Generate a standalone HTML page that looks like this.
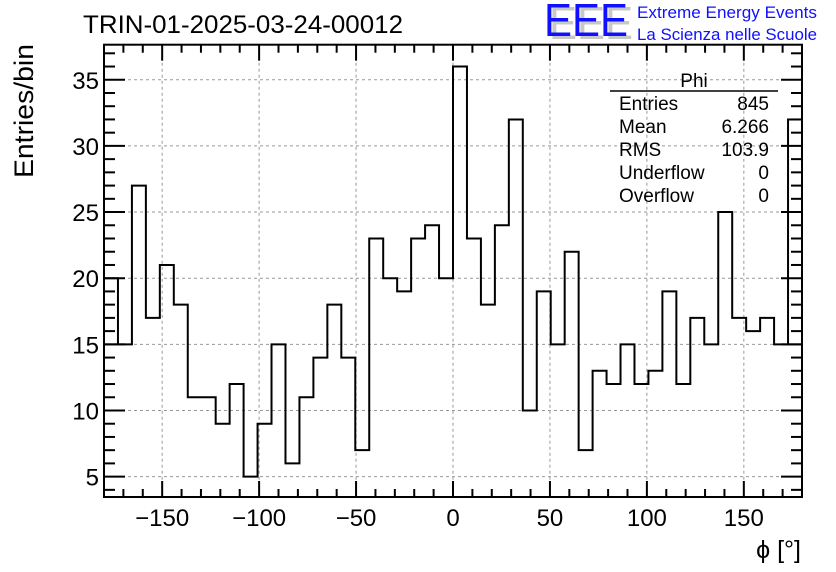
<!DOCTYPE html>
<html><head><meta charset="utf-8"><style>
html,body{margin:0;padding:0;background:#fff;}
svg{display:block;font-family:"Liberation Sans",Arial,sans-serif;}
</style></head><body>
<svg id="chart" width="836" height="572" viewBox="0 0 836 572" xmlns="http://www.w3.org/2000/svg">
<rect x="0" y="0" width="836" height="572" fill="#fff"/>
<text x="83" y="33" font-size="25" fill="#000" textLength="320" lengthAdjust="spacingAndGlyphs">TRIN-01-2025-03-24-00012</text>
<g>
<text x="549" y="39" font-size="46" fill="#c8c8c8" textLength="84" lengthAdjust="spacingAndGlyphs">EEE</text>
<text x="544" y="36" font-size="46" fill="#1010ff" textLength="84" lengthAdjust="spacingAndGlyphs">EEE</text>
<text x="637" y="18" font-size="16.5" fill="#1010ff" textLength="180" lengthAdjust="spacingAndGlyphs">Extreme Energy Events</text>
<text x="637" y="40" font-size="16.5" fill="#1010ff" textLength="180" lengthAdjust="spacingAndGlyphs">La Scienza nelle Scuole</text>
</g>
<g id="grid"></g>
<g id="axes"></g>
<path id="hist" fill="none" stroke="#000" stroke-width="2"/>
<g id="wrap"></g>
<rect x="104" y="44.7" width="698" height="452.3" fill="none" stroke="#000" stroke-width="2"/>
<g font-size="19" fill="#000">
<text x="694" y="87" text-anchor="middle">Phi</text>
<line x1="610" y1="91" x2="778" y2="91" stroke="#000" stroke-width="1.5"/>
<text x="619" y="110">Entries</text><text x="769" y="110" text-anchor="end">845</text>
<text x="619" y="133">Mean</text><text x="769" y="133" text-anchor="end">6.266</text>
<text x="619" y="156">RMS</text><text x="769" y="156" text-anchor="end">103.9</text>
<text x="619" y="179">Underflow</text><text x="769" y="179" text-anchor="end">0</text>
<text x="619" y="202">Overflow</text><text x="769" y="202" text-anchor="end">0</text>
</g>
<text transform="translate(33,178) rotate(-90)" font-size="27" fill="#000" textLength="134" lengthAdjust="spacingAndGlyphs">Entries/bin</text>
<text x="801" y="558" text-anchor="end" font-size="25" fill="#000">ϕ [°]</text>
</svg>
<script>
const binValues=[15,15,27,17,21,18,11,11,9,12,5,9,15,6,11,14,18,14,7,23,20,19,23,24,20,36,23,18,24,32,10,19,15,22,7,13,12,15,12,13,19,12,17,15,25,17,16,17,15,15];
const edgeBinValues=[20,32];
const xTicks=[-150,-100,-50,0,50,100,150];
const yTicks=[5,10,15,20,25,30,35];
const xMin=-180,xMax=180,binWidth=7.2;
const yMin=3.46,yMax=37.65;
const L=104,R=802,T=44.7,B=497;
const NS='http://www.w3.org/2000/svg';
function sx(v){return L+(v-xMin)/(xMax-xMin)*(R-L);}
function sy(v){return B-(v-yMin)/(yMax-yMin)*(B-T);}
function mk(tag,attrs,parent){const e=document.createElementNS(NS,tag);for(const k in attrs)e.setAttribute(k,attrs[k]);parent.appendChild(e);return e;}
const grid=document.getElementById('grid'),axes=document.getElementById('axes');
xTicks.forEach(t=>{
 const g=mk('line',{x1:sx(t),x2:sx(t),y1:T,y2:B,stroke:'#999','stroke-width':1,'stroke-dasharray':'3,3'},grid);
 
 
 const lb=mk('text',{x:sx(t),y:526,'text-anchor':'middle','font-size':24,fill:'#000'},axes);
 lb.textContent=t===0?'0':(t<0?'\u2212'+(-t):String(t));
 
 
});
yTicks.forEach(t=>{
 const g=mk('line',{x1:L,x2:R,y1:sy(t),y2:sy(t),stroke:'#999','stroke-width':1,'stroke-dasharray':'3,3'},grid);
 
 
 const lb=mk('text',{x:99,y:sy(t)+9,'text-anchor':'end','font-size':24,fill:'#000'},axes);
 lb.textContent=String(t);
 
 
});
for(let v=-170;v<=170;v+=10){const major=v%50===0;const len=major?16:8;
 mk('line',{x1:sx(v),x2:sx(v),y1:B,y2:B-len,stroke:'#000','stroke-width':2},axes);
 mk('line',{x1:sx(v),x2:sx(v),y1:T,y2:T+len,stroke:'#000','stroke-width':2},axes);}
for(let v=4;v<=37;v++){const major=v%5===0;const len=major?21:11;
 mk('line',{x1:L,x2:L+len,y1:sy(v),y2:sy(v),stroke:'#000','stroke-width':2},axes);
 mk('line',{x1:R,x2:R-len,y1:sy(v),y2:sy(v),stroke:'#000','stroke-width':2},axes);}
let d='';
binValues.forEach((v,i)=>{const x0=sx(xMin+i*binWidth),x1=sx(xMin+(i+1)*binWidth),y=sy(v);
 d+=(i===0?'M':'L')+x0+','+y+'L'+x1+','+y;});
document.getElementById('hist').setAttribute('d',d);
const wrap=document.getElementById('wrap');
const e1=sx(xMin+binWidth),e2=sx(xMax-binWidth);
const w1=mk('path',{d:'M'+L+','+sy(edgeBinValues[0])+'L'+e1+','+sy(edgeBinValues[0])+'L'+e1+','+sy(binValues[0]),fill:'none',stroke:'#000','stroke-width':2},wrap);


const w2=mk('path',{d:'M'+e2+','+sy(binValues[49])+'L'+e2+','+sy(edgeBinValues[1])+'L'+R+','+sy(edgeBinValues[1]),fill:'none',stroke:'#000','stroke-width':2},wrap);


</script>
</body></html>
